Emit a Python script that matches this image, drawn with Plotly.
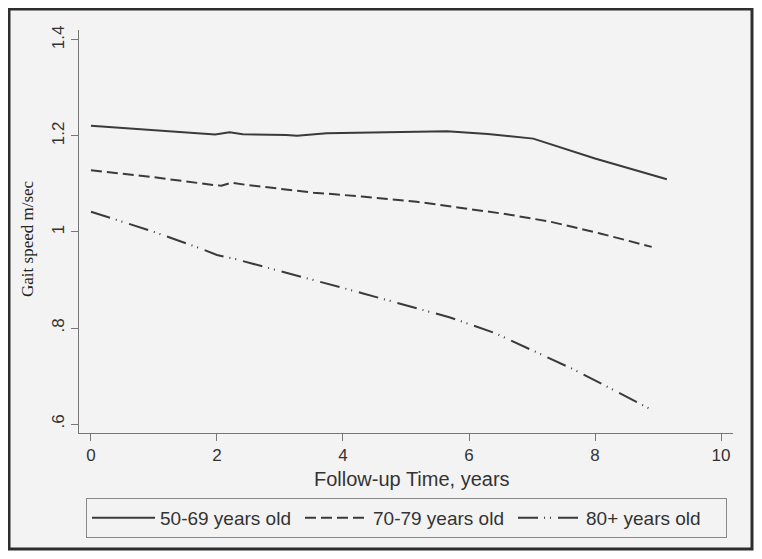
import plotly.graph_objects as go

# Data
years_5069 = [0.0, 1.0, 1.73, 1.97, 2.2, 2.41, 3.1, 3.27, 3.74, 4.43, 5.17, 5.65, 6.3, 7.02, 8.0, 9.14]
speed_5069 = [1.2215, 1.212, 1.204, 1.203, 1.208, 1.2035, 1.202, 1.2006, 1.2055, 1.207, 1.209, 1.21, 1.204, 1.1945, 1.153, 1.11]

years_7079 = [0.0, 1.0, 1.94, 2.07, 2.23, 2.47, 3.53, 4.3, 5.17, 5.96, 6.6, 7.29, 8.08, 8.9]
speed_7079 = [1.1285, 1.114, 1.098, 1.0965, 1.1027, 1.098, 1.082, 1.074, 1.063, 1.049, 1.037, 1.0215, 0.997, 0.969]

years_80 = [0.0, 0.99, 1.73, 2.0, 2.31, 3.0, 4.32, 5.17, 5.7, 6.4, 7.02, 7.68, 8.29, 8.88]
speed_80 = [1.0423, 1.0006, 0.966, 0.952, 0.943, 0.919, 0.872, 0.841, 0.822, 0.79, 0.753, 0.7125, 0.671, 0.631]

series_names = ["50-69 years old", "70-79 years old", "80+ years old"]
x_ticks = [0, 2, 4, 6, 8, 10]
y_tickvals = [0.6, 0.8, 1.0, 1.2, 1.4]
y_ticktext = [".6", ".8", "1", "1.2", "1.4"]

LINE = "#3a3a3a"
BG = "#f3f3f3"

fig = go.Figure()
fig.add_trace(go.Scatter(x=years_5069, y=speed_5069, mode="lines", name=series_names[0],
                         line=dict(color=LINE, width=2, dash="solid")))
fig.add_trace(go.Scatter(x=years_7079, y=speed_7079, mode="lines", name=series_names[1],
                         line=dict(color=LINE, width=2, dash="11px,5px")))
fig.add_trace(go.Scatter(x=years_80, y=speed_80, mode="lines", name=series_names[2],
                         line=dict(color=LINE, width=2, dash="20px,6px,1px,5px,1px,7px")))

# page has an 8px body margin; figure coordinates = page coordinates - 8
OFF = 8
W, H = 762 - 2 * OFF, 559 - 2 * OFF
L, T = 79 - OFF, 30 - OFF
R = W - (733 - OFF)
B = H - (433 - OFF)
pw, ph = W - L - R, H - T - B

def px(p):
    return (p - OFF - L) / pw

def py(p):
    return (H - B - (p - OFF)) / ph

fig.add_shape(type="rect", xref="paper", yref="paper", layer="below",
              x0=px(9), x1=px(752), y0=py(549), y1=py(9),
              fillcolor=BG, line=dict(color="#2e2e2e", width=3))

tickfont = dict(family="Liberation Sans, Arial, sans-serif", size=17, color="#333333")

fig.update_xaxes(range=[-0.19, 10.19], tickvals=x_ticks, showline=True, linecolor="#777777",
                 linewidth=1, ticks="outside", ticklen=7, tickcolor="#777777", tickwidth=1,
                 showgrid=False, zeroline=False, tickfont=tickfont, automargin=False)
fig.update_yaxes(range=[0.58125, 1.4208], tickvals=y_tickvals, ticktext=y_ticktext,
                 showline=True, linecolor="#777777", linewidth=1, ticks="outside", ticklen=7,
                 tickcolor="#777777", tickwidth=1, showgrid=False, zeroline=False,
                 tickfont=tickfont, tickangle=-90, automargin=False)

fig.add_annotation(text="Gait speed m/sec", xref="paper", yref="paper", x=px(27), y=py(239),
                   showarrow=False, textangle=-90, xanchor="center", yanchor="middle",
                   font=dict(family="Liberation Serif, Times New Roman, serif", size=17, color="#222222"))
fig.add_annotation(text="Follow-up Time, years", xref="paper", yref="paper", x=px(412), y=py(479),
                   showarrow=False, xanchor="center", yanchor="middle",
                   font=dict(family="Liberation Sans, Arial, sans-serif", size=20, color="#333333"))

fig.update_layout(
    width=W, height=H,
    margin=dict(l=L, r=R, t=T, b=B, pad=0),
    paper_bgcolor="white", plot_bgcolor="rgba(0,0,0,0)",
    showlegend=True,
    legend=dict(orientation="h", x=px(86), y=py(498), xanchor="left", yanchor="top",
                bgcolor=BG, bordercolor="#888888", borderwidth=1,
                font=dict(family="Liberation Sans, Arial, sans-serif", size=19, color="#333333"),
                itemwidth=63, entrywidth=135, entrywidthmode="pixels"),
)

fig.write_html("out.html")
